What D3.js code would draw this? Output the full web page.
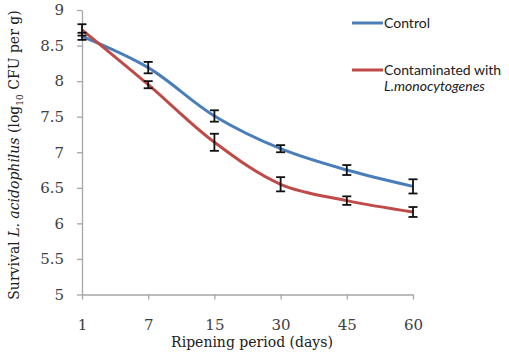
<!DOCTYPE html>
<html><head><meta charset="utf-8">
<script src="https://cdn.jsdelivr.net/npm/d3@7"></script>
<style>
body{margin:0;background:#fff;}
svg{display:block;}
</style></head>
<body>
<svg id="chart" width="509" height="356"></svg>
<script>
const days = ["1","7","15","30","45","60"];
const controlMean = [8.63, 8.19, 7.51, 7.05, 6.75, 6.52];
const controlErr  = [0.05, 0.08, 0.08, 0.05, 0.07, 0.10];
const contamMean  = [8.72, 7.95, 7.14, 6.55, 6.32, 6.16];
const contamErr   = [0.08, 0.05, 0.12, 0.10, 0.06, 0.07];
const yTicks = [5, 5.5, 6, 6.5, 7, 7.5, 8, 8.5, 9];

const svg = d3.select("#chart");
const x = d3.scalePoint().domain(days).range([82, 413]).padding(0);
const y = d3.scaleLinear().domain([5, 9]).range([294.5, 10]);
const axisColor = "#a6a6a6";
const serif = "'DejaVu Serif', serif";

// axes
const gy = svg.append("g").attr("transform", "translate(82,0)")
  .call(d3.axisLeft(y).tickValues(yTicks).tickFormat(d3.format("")).tickSize(5).tickSizeOuter(0).tickPadding(13));
const gx = svg.append("g").attr("transform", "translate(0,294.5)")
  .call(d3.axisBottom(x).tickSize(5).tickSizeOuter(0).tickPadding(20));
[gx, gy].forEach(g => {
  g.select(".domain").attr("stroke", axisColor).attr("stroke-width", 1.3);
  g.selectAll(".tick line").attr("stroke", axisColor).attr("stroke-width", 1.3);
  g.selectAll("text").attr("fill", "#404040").style("font-family", serif).style("font-size", "15px");
});

const series = [
  {name: "Control", mean: controlMean, err: controlErr, color: "#4a7ebb"},
  {name: "Contaminated", mean: contamMean, err: contamErr, color: "#be4b48"}
];

const line = d3.line().x((d, i) => x(days[i])).y(d => y(d)).curve(d3.curveCatmullRom.alpha(0.5));

series.forEach(s => {
  svg.append("path").datum(s.mean).attr("d", line)
    .attr("fill", "none").attr("stroke", s.color).attr("stroke-width", 3).attr("stroke-linejoin", "round");
});

// error bars
series.forEach(s => {
  const g = svg.append("g").attr("stroke", "#111").attr("stroke-width", 1.8);
  s.mean.forEach((m, i) => {
    const cx = x(days[i]);
    const t = y(m + s.err[i]), b = y(m - s.err[i]);
    g.append("line").attr("x1", cx).attr("x2", cx).attr("y1", t).attr("y2", b);
    g.append("line").attr("x1", cx - 4.5).attr("x2", cx + 4.5).attr("y1", t).attr("y2", t);
    g.append("line").attr("x1", cx - 4.5).attr("x2", cx + 4.5).attr("y1", b).attr("y2", b);
  });
});

// axis titles
svg.append("text").attr("x", 252).attr("y", 347).attr("text-anchor", "middle")
  .style("font-family", serif).style("font-size", "14px").attr("fill", "#202020")
  .text("Ripening period (days)");

const yt = svg.append("text").attr("transform", "translate(19,155) rotate(-90)").attr("text-anchor", "middle")
  .style("font-family", serif).style("font-size", "14px").attr("fill", "#202020");
yt.append("tspan").text("Survival ");
yt.append("tspan").style("font-style", "italic").text("L. acidophilus");
yt.append("tspan").text(" (log");
yt.append("tspan").attr("font-size", "9px").attr("dy", 4).text("10");
yt.append("tspan").attr("dy", -4).text(" CFU per g)");

// legend
const sans = "Lato, 'Open Sans', sans-serif";
const leg = [
  {color: "#4a7ebb", y: 23, lines: [{t: "Control", it: false}]},
  {color: "#be4b48", y: 70, lines: [{t: "Contaminated with", it: false}, {t: "L.monocytogenes", it: true}]}
];
leg.forEach(l => {
  svg.append("line").attr("x1", 352).attr("x2", 383).attr("y1", l.y).attr("y2", l.y)
    .attr("stroke", l.color).attr("stroke-width", 3);
  l.lines.forEach((ln, k) => {
    svg.append("text").attr("x", 384).attr("y", l.y + 5 + k * 16)
      .style("font-family", sans).style("font-size", "14px").attr("fill", "#202020")
      .style("font-style", ln.it ? "italic" : "normal").text(ln.t);
  });
});
</script>
</body></html>
